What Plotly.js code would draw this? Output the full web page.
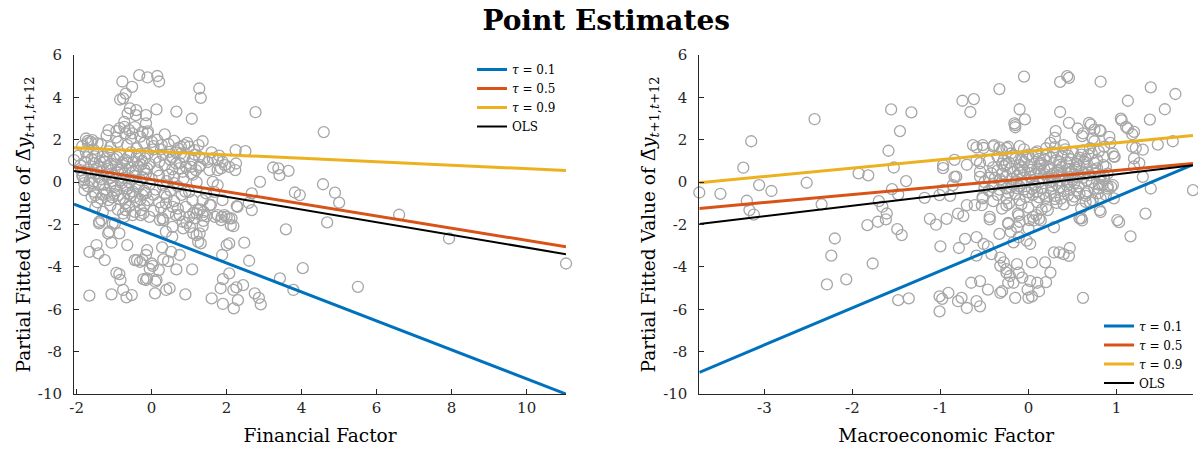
<!DOCTYPE html>
<html>
<head>
<meta charset="utf-8">
<script src="https://cdn.plot.ly/plotly-3.0.1.min.js"></script>
<style>
  html, body { margin: 0; padding: 0; background: #ffffff; }
  #chart { width: 1198px; height: 453px; }
</style>
</head>
<body>
<div id="chart"></div>
<script>
// ---- Financial factor panel: observations (factor value, partial fitted value) ----
const finPts = [
  [-0.33,5.05],[-0.11,4.94],[0.15,5.01],[0.20,4.75],[-0.78,4.75],[-0.52,4.50],[-0.69,4.18],[-0.84,3.90],[-0.76,3.95],
  [-0.58,3.48],[-0.41,3.40],[0.13,3.43],[0.66,3.33],[1.07,2.99],[1.27,4.42],[1.31,3.98],[2.77,3.30],[1.36,1.93],
  [-1.15,2.45],[-0.94,2.41],[-1.58,1.98],[-1.70,1.83],[-2.07,1.04],[-1.79,-0.38],[-1.83,0.25],[2.24,1.51],[2.50,1.46],
  [2.89,0.01],[3.24,0.69],[3.38,0.65],[3.41,0.33],[3.65,0.53],[3.82,-0.49],[2.67,-0.53],[2.67,-1.32],[1.95,0.80],
  [4.59,2.36],[4.57,-0.10],[4.89,-0.50],[5.00,-0.97],[4.68,-1.90],[6.60,-1.54],[7.93,-2.66],[11.05,-3.84],[4.03,-4.06],
  [5.50,-4.94],[3.95,-0.61],[3.58,-2.23],[3.42,-4.54],[3.78,-5.09],[2.60,-3.71],[2.47,-2.86],[2.07,-2.89],[2.00,-2.97],
  [1.88,-3.44],[2.07,-4.31],[1.90,-4.58],[1.84,-5.01],[2.18,-5.09],[2.26,-4.97],[2.44,-4.86],[2.30,-5.57],[1.90,-5.75],
  [2.19,-5.96],[2.75,-5.25],[2.86,-5.46],[2.91,-5.77],[1.60,-5.49],[0.90,-5.30],[1.08,-4.12],[0.66,-4.12],[0.75,-3.44],
  [0.55,-2.58],[0.52,-3.29],[0.44,-3.73],[0.31,-3.65],[0.28,-3.08],[0.19,-4.15],[0.10,-4.70],[0.09,-5.25],[0.48,-5.01],
  [0.39,-5.09],[0.03,-3.95],[-0.05,-4.10],[0.00,-3.84],[-0.12,-3.21],[-0.15,-3.44],[-0.24,-3.68],[-0.31,-3.76],[-0.39,-3.68],
  [-0.45,-3.68],[-0.22,-4.58],[-0.15,-4.62],[-0.12,-4.54],[0.13,-4.62],[-0.65,-2.97],[-0.94,-4.28],[-0.86,-4.34],[-0.83,-4.62],
  [-0.76,-5.09],[-0.67,-5.44],[-0.53,-5.33],[-1.07,-5.30],[-1.66,-5.36],[-1.66,-3.29],[-1.47,-2.97],[-1.42,-3.36],[-1.25,-3.68],
  [-1.16,-2.42],[-0.86,-2.42],[-1.07,-2.86],[-1.40,-1.87],[-1.34,-1.79],[-0.98,-1.95],[-0.29,-1.56],[-0.22,-1.48],[-0.76,-1.48],
  [0.22,-1.79],[0.31,-1.79],[0.75,-1.56],[1.11,-1.45],[1.20,-1.48],[1.29,-1.29],[1.39,-1.40],[1.46,-1.60],[1.38,-1.83],
  [1.36,-2.08],[1.28,-2.42],[1.20,-2.50],[1.11,-2.42],[1.24,-2.82],[1.31,-2.89],[0.93,-1.92],[1.02,-2.11],[0.84,-2.18],
  [1.55,-1.08],[1.69,-1.64],[1.87,-1.64],[2.00,-1.64],[2.13,-1.71],[2.27,-1.13],[2.18,-2.08],
  [-0.42,3.16],[-0.64,3.24],[-0.73,2.84],[-0.73,2.61],[-0.60,2.45],[-0.51,2.30],[-0.15,3.16],[-0.15,2.77],[-0.24,2.37],
  [-0.11,2.30],[0.01,1.90],[0.27,1.75],[-1.75,2.06],[-1.62,1.90],[-1.44,1.83],[0.78,1.67],[0.87,1.75],[1.00,1.67],
  [1.14,1.51],[1.27,1.19],[1.09,1.04],[0.87,1.19],[0.78,1.35],[0.47,1.43],[0.56,1.19],[0.65,0.88],[0.74,0.65],
  [0.83,0.49],[0.91,0.72],[1.05,0.72],[1.18,0.57],[1.27,0.72],[1.05,0.41],[1.63,1.12],[1.76,1.04],[1.89,0.96],
  [2.07,0.72],[2.23,0.57],[2.25,0.88],[1.85,0.65],[1.76,0.57],[1.54,0.57],[1.63,0.01],[1.76,-0.14],[1.67,-0.46],
  [1.45,-0.53],[1.36,-0.85],[1.58,-1.08],[1.89,-0.85],[2.29,-1.17],[2.59,-0.98],[1.94,-1.56],[2.07,-1.71],[2.11,-2.03],
  [1.85,-1.79],[1.76,-1.56],[1.00,-0.46],[1.09,-0.85],[0.91,-1.17],[1.23,-1.32],[1.36,-1.56],[1.14,-1.71],[1.00,-1.64],
  [0.38,-1.00],[0.56,-1.17],[0.65,-1.56],[0.29,-1.71],[0.83,-1.87],[0.56,-2.11],[0.38,-2.34],[-0.69,-1.32],[-0.73,-1.64],
  [-0.51,-1.56],[-0.29,-1.32],[-0.06,-1.64],[-1.40,-1.95],[-1.13,-2.34],[-1.04,-1.95],[-1.80,0.09],
  // dense core of the sample
  [-1.20,2.20],[-0.95,2.10],[-0.70,2.30],[-0.55,2.05],[-0.30,2.15],[-0.10,2.40],[0.15,2.00],[0.35,2.25],[0.60,1.95],
  [-0.85,2.55],[-0.45,2.60],[-1.85,1.70],[-1.55,1.55],[-1.35,1.80],[-1.10,1.65],[-0.90,1.90],[-0.65,1.75],[-0.40,1.60],
  [-0.20,1.85],[0.05,1.70],[0.25,1.55],[0.45,1.80],[0.70,1.60],[0.95,1.85],[1.25,1.75],[-1.70,1.95],[-1.95,1.25],
  [-1.75,1.40],[-1.60,1.10],[-1.45,1.35],[-1.30,1.20],[-1.15,1.45],[-1.00,1.10],[-0.85,1.30],[-0.70,1.05],[-0.55,1.40],
  [-0.40,1.20],[-0.25,1.00],[-0.10,1.35],[0.10,1.15],[0.30,1.30],[0.50,1.05],[0.65,1.40],[0.85,1.20],[1.15,1.30],
  [1.40,1.10],[1.60,1.40],[1.80,1.25],[-1.90,0.80],[-1.70,0.60],[-1.55,0.90],[-1.40,0.70],[-1.25,0.95],[-1.10,0.55],
  [-0.95,0.80],[-0.80,0.65],[-0.65,0.90],[-0.50,0.50],[-0.35,0.75],[-0.20,0.60],[-0.05,0.85],[0.15,0.55],[0.35,0.80],
  [0.55,0.60],[0.75,0.90],[1.30,0.80],[1.50,0.95],[-1.85,0.30],[-1.65,0.10],[-1.50,0.40],[-1.35,0.15],[-1.20,0.35],
  [-1.05,0.05],[-0.90,0.45],[-0.75,0.20],[-0.60,0.00],[-0.45,0.30],[-0.30,0.10],[-0.15,0.40],[0.00,0.15],[0.20,0.30],
  [0.40,0.05],[0.60,0.25],[0.85,0.15],[1.10,0.35],[1.20,0.00],[-1.70,-0.20],[-1.55,-0.45],[-1.40,-0.10],[-1.25,-0.35],
  [-1.10,-0.15],[-0.95,-0.40],[-0.80,-0.05],[-0.65,-0.30],[-0.50,-0.45],[-0.35,-0.20],[-0.20,-0.40],[-0.05,-0.10],[0.10,-0.35],
  [0.30,-0.15],[0.50,-0.40],[0.70,-0.20],[0.90,-0.45],[-1.60,-0.70],[-1.45,-0.95],[-1.30,-0.60],[-1.15,-0.85],[-1.00,-0.55],
  [-0.85,-0.80],[-0.70,-1.00],[-0.55,-0.65],[-0.40,-0.90],[-0.25,-0.60],[-0.10,-0.85],[0.05,-0.60],[0.20,-0.95],[0.40,-0.70],
  [0.60,-0.90],[0.80,-0.60],[-1.50,-1.20],[-1.30,-1.40],[-1.10,-1.10],[-0.90,-1.30],[-0.60,-1.15],[-0.45,-1.40],[-0.20,-1.10],
  [0.05,-1.35],[0.25,-1.20],[0.45,-1.45],[0.70,-1.25],[-1.62,0.45],[-1.48,0.62],[-1.33,0.50],[-1.18,0.75],[-1.02,0.32],
  [-0.88,0.58],[-0.72,0.42],[-0.58,0.68],[-0.42,0.52],[-0.28,0.82],[-0.12,0.65],[-1.58,-0.05],[-1.42,0.22],[-1.28,-0.12],
  [-1.12,0.18],[-0.98,-0.22],[-0.82,0.08],[-0.68,-0.18],[-0.52,0.12],[-0.38,-0.08],[-0.22,0.22],[-1.52,1.22],[-1.38,0.98],
  [-1.22,1.12],[-1.08,0.88],[-0.92,1.18],[-0.78,0.92],[-0.62,1.22],[-0.48,0.98],[-0.32,1.32],[-0.18,1.12],[-1.50,-0.62],
  [-1.35,-0.78],[-1.20,-0.52],[-1.05,-0.72],[-0.90,-0.62],[-0.75,-0.78],[-0.60,-0.55],[-0.45,-0.70],[-0.30,-0.82],[-0.15,-0.52],
  [-1.78,0.95],[-1.88,0.55],[-1.80,-0.05],[-1.72,1.18],[0.05,1.55],[0.20,0.95],[0.45,0.35],[0.60,-0.05],[0.35,-0.55]
];

// ---- Macroeconomic factor panel: observations ----
const macPts = [
  [-3.74,-0.49],[-3.50,-0.55],[-3.24,0.68],[-3.15,1.93],[-3.20,-0.88],[-3.17,-1.32],[-3.12,-1.53],[-3.06,-0.14],[-2.92,-0.42],
  [-2.43,2.97],[-2.52,-0.03],[-2.35,-1.05],[-2.20,-2.66],[-2.24,-3.47],[-2.29,-4.83],[-2.07,-4.59],[-1.93,0.41],[-1.82,0.32],
  [-1.83,-2.03],[-1.77,-3.84],[-1.70,-0.90],[-1.66,-1.16],[-1.61,-1.48],[-1.62,-1.76],[-1.71,-1.87],[-1.56,3.43],[-1.33,3.29],
  [-1.46,2.41],[-1.59,1.48],[-1.53,0.69],[-1.39,0.05],[-1.55,-0.33],[-1.48,-0.58],[-1.49,-2.22],[-1.44,-2.50],[-1.48,-5.57],
  [-1.36,-5.49],
  [-0.05,4.98],[0.36,4.73],[0.44,5.00],[0.46,4.92],[0.82,4.74],[-0.33,4.39],[1.39,4.47],[1.67,4.16],[-0.75,3.84],
  [-0.62,3.92],[-0.66,3.31],[-0.10,3.44],[-0.04,2.96],[-0.15,2.69],[-0.15,2.59],[0.36,3.31],[1.13,3.84],[1.55,3.44],
  [1.38,2.95],[1.06,2.91],[1.13,2.53],[1.20,2.37],[0.46,2.80],[0.56,2.53],[0.61,2.17],[0.71,2.72],[0.82,2.41],
  [0.75,1.93],[0.93,1.85],[0.97,1.21],[1.22,1.61],[1.30,1.53],[1.47,1.77],[1.64,1.93],[0.31,2.41],[0.30,2.09],
  [0.25,1.85],[-0.59,1.64],[-0.51,1.61],[-0.40,1.69],[-0.33,1.64],[-0.25,1.61],[-0.97,0.66],[-0.84,1.05],[-0.70,0.82],
  [-0.55,0.90],[-0.82,0.26],[-1.18,-0.74],[-1.01,-0.61],[-0.89,-0.65],[-0.70,-1.09],[-0.61,-1.09],[-0.53,-1.09],[-0.52,-0.77],
  [-1.12,-1.73],[-1.05,-2.01],[-0.93,-1.73],[-0.80,-1.49],[-0.74,-1.60],[-0.44,-1.76],[-1.00,-3.03],[-0.79,-3.11],[-0.72,-2.68],
  [-0.59,-2.60],[-0.51,-2.92],[-0.46,-3.03],[-0.42,-3.40],[-0.59,-3.47],[-0.33,-2.44],[-0.23,-1.97],[-0.13,-2.13],[-0.11,-1.57],
  [0.00,-2.20],[-0.02,-2.76],[0.02,-2.92],[0.06,-1.81],[0.12,-1.73],[-0.11,-2.60],[-0.17,-2.84],[-0.32,-3.56],[-0.28,-3.79],
  [-0.32,-3.95],[-0.25,-4.27],[-0.21,-4.43],[-0.13,-3.87],[-0.11,-4.27],[-0.17,-4.75],[-0.07,-4.51],[-0.23,-4.75],[-0.25,-4.11],
  [0.04,-3.79],[0.19,-3.79],[0.25,-4.27],[0.20,-4.72],[0.10,-4.75],[0.02,-4.67],[-0.01,-5.07],[0.04,-5.39],[0.12,-5.15],
  [0.00,-5.46],[-0.15,-5.46],[-0.30,-5.15],[-0.32,-5.23],[-0.65,-4.75],[-0.55,-4.67],[-0.46,-5.07],[-0.59,-5.62],[-0.55,-5.86],
  [-0.70,-5.94],[-0.76,-5.46],[-0.80,-5.62],[-0.91,-5.23],[-1.01,-5.39],[-0.98,-5.51],[-1.01,-6.10],[0.29,-3.32],[0.35,-3.32],
  [0.40,-3.40],[0.47,-3.11],[0.46,-3.48],[0.62,-5.46],[0.61,-1.81],[0.82,-1.41],[1.03,-1.89],[1.16,-2.56],[1.33,-1.49],
  [1.87,-0.38],[1.26,0.90],[1.20,0.74],[0.86,0.26],[0.80,-0.30],[0.90,-0.30],[0.97,-0.77],[0.82,-0.77],[0.29,-2.13],
  [0.14,-1.81],[1.11,2.61],[1.18,2.26],[0.69,2.80],[0.75,2.48],[0.81,2.45],[0.73,2.06],[0.86,1.67],[1.18,1.67],
  [1.20,1.12],[1.30,0.25],[1.39,-0.30],[1.01,-1.79],[0.81,-1.32],[0.94,-0.22],[0.84,-0.14],[0.88,-0.61],[0.79,-0.53],
  [0.65,-0.53],[0.60,-1.71],[0.73,-0.85],[-0.16,2.77],[-0.97,0.80],[-0.84,0.25],[-0.86,-0.14],[-0.97,-0.38],[-0.63,1.75],
  [-0.52,1.75],[-0.39,1.75],[-0.23,1.67],[-0.59,1.04],[-0.52,-0.69],[-0.41,-0.22],[-0.25,-0.77],[-0.22,-1.00],[-0.12,-1.48],
  [-0.10,-1.87],[0.01,-1.79],[0.05,-1.64],[0.09,-1.56],[0.22,-1.32],[-0.44,-1.64],[-0.23,-1.92],[-0.20,-2.34],[0.62,2.30],
  [0.92,2.14],[1.05,3.00],[0.96,1.35],[0.98,1.19],[0.88,0.72],[0.81,0.25],[0.96,-0.14],[0.65,-0.93],[0.58,-1.71],
  // dense core of the sample
  [-0.30,1.50],[-0.10,1.70],[0.10,1.45],[0.30,1.65],[0.50,1.40],[0.70,1.60],[0.00,1.30],[0.40,1.75],[-0.20,1.35],
  [-0.45,1.00],[-0.35,1.20],[-0.25,0.85],[-0.15,1.10],[-0.05,0.95],[0.05,1.20],[0.15,0.90],[0.25,1.15],[0.35,0.95],
  [0.45,1.25],[0.55,0.85],[0.65,1.10],[0.75,0.90],[0.85,1.20],[-0.10,0.80],[0.20,1.25],[-0.55,0.50],[-0.40,0.70],
  [-0.30,0.40],[-0.20,0.65],[-0.10,0.45],[0.00,0.75],[0.08,0.35],[0.18,0.60],[0.28,0.40],[0.38,0.70],[0.48,0.50],
  [0.58,0.75],[0.68,0.45],[0.78,0.65],[0.90,0.40],[-0.05,0.55],[0.12,0.50],[0.33,0.55],[0.52,0.35],[-0.25,0.30],
  [-0.50,0.00],[-0.38,0.20],[-0.28,-0.10],[-0.18,0.15],[-0.08,-0.05],[0.02,0.25],[0.12,0.00],[0.22,0.20],[0.32,-0.10],
  [0.42,0.15],[0.52,-0.05],[0.62,0.20],[0.72,0.00],[0.82,0.25],[0.05,0.10],[0.27,0.05],[0.47,0.25],[-0.13,0.28],
  [-0.45,-0.40],[-0.35,-0.60],[-0.25,-0.30],[-0.15,-0.55],[-0.05,-0.35],[0.05,-0.60],[0.15,-0.30],[0.25,-0.50],[0.35,-0.25],
  [0.45,-0.60],[0.55,-0.40],[0.65,-0.65],[0.75,-0.30],[0.10,-0.45],[0.30,-0.65],[-0.10,-0.20],[-0.40,-0.90],[-0.25,-1.10],
  [-0.10,-0.85],[0.00,-1.20],[0.10,-0.95],[0.20,-1.15],[0.30,-0.80],[0.40,-1.05],[0.50,-0.85],[0.60,-1.25],[0.70,-0.95],
  [-0.30,-1.25],[0.15,-1.30],[-0.22,0.92],[-0.12,0.62],[0.02,0.42],[0.14,0.78],[0.24,0.58],[0.36,0.82],[0.46,0.62],
  [0.56,0.98],[0.66,0.72],[-0.18,-0.12],[-0.02,0.08],[0.08,-0.22],[0.18,0.38],[0.30,0.18],[0.40,-0.42],[0.50,0.10],
  [0.60,0.52],[0.70,0.32],[0.80,-0.12],[-0.32,0.12],[-0.42,0.42],[0.26,-0.32],[0.38,0.40],[0.44,-0.18],[0.00,-0.48],
  [0.20,-0.75],[0.58,-0.55],[-0.08,1.05],[0.32,1.05],[0.60,1.30],[0.12,1.10],[-0.30,0.88],[0.72,1.35],[0.85,0.80],
  [0.90,-0.20],[-0.50,-0.25],[-0.55,0.25],[0.10,0.65],[0.34,0.28],[0.54,0.58],
  [-0.35,0.55],[-0.27,0.75],[-0.17,0.48],[-0.07,0.70],[0.03,0.58],[0.13,0.88],[0.23,0.72],[0.33,0.45],[0.43,0.92],
  [0.53,0.68],[0.63,0.95],[0.73,0.55],[-0.33,-0.35],[-0.23,-0.50],[-0.13,-0.28],[-0.03,-0.70],[0.07,-0.12],[0.17,-0.55],
  [0.27,-0.18],[0.37,-0.78],[0.47,-0.35],[0.57,-0.20],[0.67,-0.45],[-0.28,1.05],[-0.18,1.25],[-0.02,1.15],[0.08,1.38],
  [0.18,1.05],[0.28,1.40],[0.38,1.20],[0.48,1.08],[0.58,1.15],[0.68,1.28],[0.78,1.05],[-0.40,-0.08],[-0.30,0.02],
  [-0.20,-0.25],[0.16,0.18],[0.26,0.32],[0.36,0.08],[0.46,0.42],[0.56,0.22],[0.66,0.08],[0.76,0.42],[0.86,0.10],
  [-0.14,0.05],[0.04,-0.32],[0.24,0.00],[0.44,-0.02],[0.64,0.38],[0.12,-0.72],[0.32,-0.98],[0.52,-0.68],[-0.08,-1.05],
  [0.42,1.55],[0.20,1.60],[-0.05,1.55],[0.62,1.50],[0.80,1.45],[-0.45,0.20]
];

// ---- Fitted lines: quantile regressions and OLS, evaluated at the factor range ends ----
const finLineX = [-2.07, 11.05];
const finQ10   = [-1.04, -10.0];
const finQ50   = [0.72, -3.05];
const finQ90   = [1.62, 0.55];
const finOLS   = [0.52, -3.40];

const macLineX = [-3.74, 1.87];
const macQ10   = [-8.98, 0.83];
const macQ50   = [-1.24, 0.88];
const macQ90   = [-0.03, 2.20];
const macOLS   = [-1.98, 0.80];

// ---- Tick labels ----
const yTickVals  = [-10, -8, -6, -4, -2, 0, 2, 4, 6];
const yTickText  = ['-10', '-8', '-6', '-4', '-2', '0', '2', '4', '6'];
const finTickVals = [-2, 0, 2, 4, 6, 8, 10];
const finTickText = ['-2', '0', '2', '4', '6', '8', '10'];
const macTickVals = [-3, -2, -1, 0, 1];
const macTickText = ['-3', '-2', '-1', '0', '1'];

const lineNames = ['<i>τ</i> = 0.1', '<i>τ</i> = 0.5', '<i>τ</i> = 0.9', 'OLS'];
const lineColors = ['#0072BD', '#D95319', '#EDB120', '#000000'];
const lineWidths = [3, 3, 3, 2];

const SERIF = 'DejaVu Serif, serif';
const AXIS_COLOR = '#262626';

function scatterTrace(pts, xa, ya) {
  return {
    x: pts.map(p => p[0]), y: pts.map(p => p[1]),
    xaxis: xa, yaxis: ya,
    type: 'scatter', mode: 'markers', showlegend: false, hoverinfo: 'skip',
    cliponaxis: false,
    marker: { symbol: 'circle-open', size: 11, color: '#a6a6a6', line: { width: 1.3, color: '#a6a6a6' } }
  };
}

function lineTraces(xs, series, xa, ya, legendId) {
  return series.map((ys, i) => ({
    x: xs, y: ys, xaxis: xa, yaxis: ya, legend: legendId,
    type: 'scatter', mode: 'lines', name: lineNames[i], hoverinfo: 'skip',
    line: { color: lineColors[i], width: lineWidths[i] }
  }));
}

const traces = [
  scatterTrace(finPts, 'x', 'y'),
  ...lineTraces(finLineX, [finQ10, finQ50, finQ90, finOLS], 'x', 'y', 'legend'),
  scatterTrace(macPts, 'x2', 'y2'),
  ...lineTraces(macLineX, [macQ10, macQ50, macQ90, macOLS], 'x2', 'y2', 'legend2')
];

const yTitle = 'Partial Fitted Value of Δ̄<i>y</i><sub><i>t</i>+1,<i>t</i>+12</sub>';
const titleFont = { family: SERIF, size: 18.5, color: '#000000' };

function baseAxis(extra) {
  return Object.assign({
    showline: true, linecolor: AXIS_COLOR, linewidth: 1,
    ticks: 'inside', ticklen: 5, tickcolor: AXIS_COLOR, tickwidth: 1,
    showgrid: false, zeroline: false, mirror: false,
    tickmode: 'array',
    tickfont: { family: SERIF, size: 15, color: AXIS_COLOR }
  }, extra);
}

const legendStyle = {
  bgcolor: 'rgba(0,0,0,0)', borderwidth: 0,
  font: { family: SERIF, size: 12, color: '#000000' },
  xanchor: 'left', yanchor: 'top', tracegroupgap: 0
};

const layout = {
  width: 1198, height: 453,
  paper_bgcolor: '#ffffff', plot_bgcolor: '#ffffff',
  margin: { l: 74, r: 5, t: 55, b: 59 },
  title: {
    text: '<b>Point Estimates</b>',
    font: { family: SERIF, size: 28, color: '#000000' },
    x: 0.506, xref: 'container', xanchor: 'center',
    y: 0.955, yref: 'container', yanchor: 'middle'
  },
  xaxis: baseAxis({
    domain: [0, 0.4397], range: [-2.07, 11.05], anchor: 'y',
    tickvals: finTickVals, ticktext: finTickText,
    title: { text: 'Financial Factor', font: titleFont, standoff: 13 }
  }),
  yaxis: baseAxis({
    domain: [0, 1], range: [-10, 6], anchor: 'x',
    tickvals: yTickVals, ticktext: yTickText, ticklabelstandoff: 8,
    title: { text: yTitle, font: titleFont, standoff: 2 }
  }),
  xaxis2: baseAxis({
    domain: [0.5588, 1], range: [-3.74, 1.87], anchor: 'y2',
    tickvals: macTickVals, ticktext: macTickText,
    title: { text: 'Macroeconomic Factor', font: titleFont, standoff: 13 }
  }),
  yaxis2: baseAxis({
    domain: [0, 1], range: [-10, 6], anchor: 'x2',
    tickvals: yTickVals, ticktext: yTickText, ticklabelstandoff: 8,
    title: { text: yTitle, font: titleFont, standoff: 2 }
  }),
  legend: Object.assign({}, legendStyle, { x: 0.3557, y: 1.0 }),
  legend2: Object.assign({}, legendStyle, { x: 0.916, y: 0.243 }),
  showlegend: true
};

Plotly.newPlot('chart', traces, layout, { displayModeBar: false, staticPlot: true });
</script>
</body>
</html>
